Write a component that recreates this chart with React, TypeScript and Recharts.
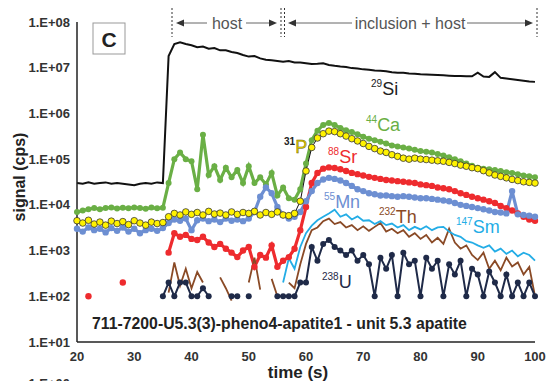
import React from "react";
import { ComposedChart, Line, XAxis, YAxis } from "recharts";

// time (s), one reading per second
const times = [
  20, 21, 22, 23, 24, 25, 26, 27, 28, 29,
  30, 31, 32, 33, 34, 35, 36, 37, 38, 39,
  40, 41, 42, 43, 44, 45, 46, 47, 48, 49,
  50, 51, 52, 53, 54, 55, 56, 57, 58, 59,
  60, 61, 62, 63, 64, 65, 66, 67, 68, 69,
  70, 71, 72, 73, 74, 75, 76, 77, 78, 79,
  80, 81, 82, 83, 84, 85, 86, 87, 88, 89,
  90, 91, 92, 93, 94, 95, 96, 97, 98, 99,
  100,
];

const si29 = [
  3.0e4, 2.9e4, 3.1e4, 2.9e4, 3.0e4, 3.1e4, 2.9e4, 3.0e4, 2.9e4, 2.8e4,
  2.7e4, 2.9e4, 3.0e4, 2.9e4, 3.1e4, 3.0e4, 1.8e7, 3.3e7, 3.6e7, 3.3e7,
  3.1e7, 2.8e7, 2.9e7, 2.6e7, 2.7e7, 2.4e7, 2.4e7, 2.2e7, 2.1e7, 1.9e7,
  1.75e7, 1.8e7, 1.6e7, 1.5e7, 1.45e7, 1.4e7, 1.35e7, 1.4e7, 1.3e7, 1.3e7,
  1.25e7, 1.2e7, 1.22e7, 1.25e7, 1.15e7, 1.1e7, 1.06e7, 1.04e7, 9.8e6, 9.6e6,
  9.2e6, 9.0e6, 8.7e6, 8.6e6, 8.4e6, 8.0e6, 7.8e6, 7.8e6, 7.5e6, 7.4e6,
  7.2e6, 7.1e6, 7.0e6, 6.9e6, 6.8e6, 6.7e6, 6.6e6, 6.6e6, 6.5e6, 6.5e6,
  7.8e6, 6.4e6, 6.3e6, 8.0e6, 6.0e6, 5.8e6, 5.6e6, 5.4e6, 5.2e6, 5.0e6,
  4.9e6,
];

const ca44 = [
  7.0e3, 7.5e3, 8.0e3, 8.5e3, 8.0e3, 8.5e3, 8.8e3, 8.3e3, 8.6e3, 8.4e3,
  8.8e3, 8.5e3, 8.2e3, 8.7e3, 8.4e3, 8.6e3, 3.0e4, 1.0e5, 1.4e5, 1.0e5,
  9.0e4, 2.2e4, 3.4e5, 4.5e4, 7.0e4, 3.5e4, 6.5e4, 4.0e4, 5.8e4, 3.0e4,
  7.0e4, 3.0e4, 4.0e4, 2.8e4, 5.0e4, 1.6e4, 2.4e4, 1.4e4, 1.3e4, 2.2e4,
  8.0e4, 2.6e5, 4.2e5, 5.6e5, 6.2e5, 5.6e5, 4.8e5, 4.3e5, 3.9e5, 3.5e5,
  3.1e5, 2.8e5, 2.6e5, 2.4e5, 2.2e5, 2.0e5, 1.9e5, 1.8e5, 1.7e5, 1.6e5,
  1.5e5, 1.45e5, 1.4e5, 1.3e5, 1.2e5, 1.1e5, 1.0e5, 9.0e4, 8.0e4, 7.2e4,
  6.5e4, 6.2e4, 6.0e4, 5.8e4, 5.5e4, 5.2e4, 5.0e4, 4.7e4, 4.4e4, 4.2e4,
  4.0e4,
];

const p31 = [
  4.5e3, 4.0e3, 4.6e3, 3.8e3, 4.2e3, 3.6e3, 4.4e3, 3.9e3, 4.3e3, 3.7e3,
  4.5e3, 4.0e3, 3.6e3, 4.2e3, 3.9e3, 4.1e3, 5.5e3, 6.5e3, 6.0e3, 7.0e3,
  6.2e3, 6.8e3, 6.0e3, 7.2e3, 6.3e3, 6.6e3, 6.0e3, 7.0e3, 6.2e3, 6.8e3,
  6.5e3, 7.2e3, 6.0e3, 6.8e3, 6.2e3, 7.0e3, 6.0e3, 5.8e3, 6.5e3, 1.2e4,
  5.5e4, 1.8e5, 2.9e5, 3.6e5, 4.1e5, 4.0e5, 3.6e5, 3.2e5, 2.8e5, 2.5e5,
  2.2e5, 1.9e5, 1.7e5, 1.5e5, 1.4e5, 1.25e5, 1.15e5, 1.05e5, 1.0e5, 1.05e5,
  1.0e5, 9.8e4, 9.5e4, 9.2e4, 9.0e4, 8.5e4, 8.0e4, 7.4e4, 7.0e4, 6.5e4,
  6.2e4, 5.6e4, 5.0e4, 4.5e4, 4.2e4, 3.9e4, 3.6e4, 3.4e4, 3.2e4, 3.1e4,
  3.0e4,
];

const sr88 = [
  null, null, 1e2, null, null, null, null, null, 2e2, null,
  null, null, null, null, null, null, 9e2, 2.4e3, 2.0e3, 2.2e3,
  1.8e3, 1.7e3, 2.0e3, 1.5e3, 1.2e3, 1.4e3, 1.1e3, 9e2, 7.2e2, 1.0e3,
  1.2e3, 4.4e2, 8e2, 7e2, 1.3e3, 4.4e2, 6e2, 7.2e2, 1.1e3, 2.8e3,
  9e3, 3e4, 5e4, 6.2e4, 6.6e4, 6.4e4, 6.0e4, 5.5e4, 5.0e4, 4.7e4,
  4.4e4, 4.1e4, 3.9e4, 3.7e4, 3.5e4, 3.4e4, 3.3e4, 3.2e4, 3.1e4, 3.0e4,
  2.8e4, 2.7e4, 2.6e4, 2.4e4, 2.3e4, 2.2e4, 2.0e4, 1.8e4, 1.65e4, 1.5e4,
  1.4e4, 1.3e4, 1.2e4, 1.1e4, 9.5e3, 8.5e3, 7.5e3, 6.5e3, 5.5e3, 4.8e3,
  4.5e3,
];

const mn55 = [
  3.0e3, 2.6e3, 3.2e3, 2.8e3, 3.0e3, 2.5e3, 3.1e3, 2.7e3, 3.2e3, 2.6e3,
  3.0e3, 2.4e3, 2.8e3, 3.0e3, 2.7e3, 3.1e3, 4.0e3, 4.8e3, 4.5e3, 5.0e3,
  2.8e3, 4.6e3, 5.0e3, 4.4e3, 4.8e3, 4.2e3, 5.0e3, 4.5e3, 4.8e3, 4.4e3,
  5.0e3, 7.0e3, 1.5e4, 2.4e4, 1.8e4, 9.0e3, 6.0e3, 5.0e3, 5.5e3, 7.0e3,
  1.2e4, 2.0e4, 3.0e4, 3.6e4, 3.9e4, 3.7e4, 3.4e4, 3.0e4, 2.6e4, 2.2e4,
  2.0e4, 1.8e4, 1.7e4, 1.6e4, 1.6e4, 1.55e4, 1.5e4, 1.55e4, 1.5e4, 1.45e4,
  1.4e4, 1.4e4, 1.35e4, 1.3e4, 1.25e4, 1.2e4, 1.1e4, 1.0e4, 9.5e3, 9.0e3,
  8.5e3, 8.0e3, 7.5e3, 7.0e3, 6.8e3, 6.5e3, 2.0e4, 6.2e3, 6.0e3, 5.8e3,
  5.5e3,
];

const th232 = [
  null, null, null, null, null, null, null, null, null, null,
  null, null, null, null, null, null, 1.2e2, 5.5e2, 1.7e2, 4e2,
  1.5e2, 3.4e2, 2e2, null, null, 2.6e2, 1.5e2, 8e1, null, null,
  2e2, 7e2, 1.4e2, null, 2.4e2, 1e2, null, 2e2, 1.5e2, 5e2,
  1.4e3, 2.8e3, 3.2e3, 4.4e3, 5.0e3, 3.8e3, 4.2e3, 3.2e3, 3.6e3, 2.8e3,
  3.4e3, 2.7e3, 3.3e3, 4.0e3, 2.6e3, 3.0e3, 2.4e3, 2.8e3, 2.0e3, 2.4e3,
  1.8e3, 2.2e3, 1.5e3, 1.9e3, 1.4e3, 3.0e3, 1.5e3, 1.1e3, 1.3e3, 8e2,
  6.2e2, 9e2, 4e2, 6e2, 3.7e2, 7e2, 4.5e2, 5.5e2, 3e2, 4.4e2,
  1e2,
];

const sm147 = [
  null, null, null, null, null, null, null, null, null, null,
  null, null, null, null, null, null, null, null, null, null,
  null, null, null, null, null, null, null, null, null, null,
  null, null, null, null, null, null, 2e2, 6.8e2, 4e2, 1.2e3,
  2.4e3, 3.5e3, 4.6e3, 5.5e3, 6.5e3, 7.8e3, 5.5e3, 6.2e3, 4.8e3, 5.6e3,
  4.5e3, 4.6e3, 3.8e3, 4.4e3, 3.6e3, 3.9e3, 3.2e3, 3.6e3, 2.8e3, 3.3e3,
  2.9e3, 3.4e3, 2.8e3, 3.2e3, 3.3e3, 2.6e3, 2.2e3, 2.0e3, 1.6e3, 1.5e3,
  1.3e3, 1.15e3, 1.3e3, 9.5e2, 1.1e3, 8.5e2, 1.0e3, 7.5e2, 9e2, 8e2,
  6e2,
];

const u238 = [
  null, null, null, null, null, null, null, null, null, null,
  null, null, null, null, null, 1e2, 2e2, 1e2, 2e2, 2e2,
  1e2, 1e2, 1.5e2, 1e2, null, null, null, 1e2, 1e2, null,
  1e2, null, null, null, null, 1e2, 1e2, 1e2, 1e2, 2e2,
  2e2, 1.2e3, 6e2, 1.4e3, 1.7e3, 1.2e3, 1.0e3, 8e2, 1.0e3, 6e2,
  8e2, 5e2, 1e2, 7e2, 4e2, 8e2, 1e2, 9e2, 5e2, 6e2,
  1e2, 7e2, 4e2, 6e2, 1e2, 5e2, 3e2, 6e2, 1e2, 4e2,
  3e2, 1e2, 3.5e2, 2e2, 1e2, 3e2, 1e2, 2e2, 1e2, 2e2,
  1e2,
];

const xTicks = [20, 30, 40, 50, 60, 70, 80, 90, 100];
const yTicks = [1e1, 1e2, 1e3, 1e4, 1e5, 1e6, 1e7, 1e8];

const data = times.map((t, i) => ({
  t,
  si: si29[i],
  ca: ca44[i],
  p: p31[i],
  sr: sr88[i],
  mn: mn55[i],
  th: th232[i],
  sm: sm147[i],
  u: u238[i],
}));

const FONT = "'Liberation Sans', Arial, sans-serif";
const fmtExp = (v: number) => {
  const e = Math.round(Math.log10(v));
  return `1.E+${String(e).padStart(2, "0")}`;
};

const C = {
  si: "#111111",
  ca: "#6aaf45",
  p: "#fff200",
  sr: "#ee2b2e",
  mn: "#6d8fd2",
  th: "#8a4a26",
  sm: "#24ade6",
  u: "#1f2a48",
};

function IsoLabel({ x, y, mass, el, color, massColor }: any) {
  return (
    <text x={x} y={y} fill={color} fontFamily={FONT}>
      <tspan fontSize={10} dy={-8} fill={massColor || color}>{mass}</tspan>
      <tspan fontSize={18} dy={8}>{el}</tspan>
    </text>
  );
}

function Arrow({ x1, x2, y }: any) {
  // horizontal line with a head at x2
  const dir = x2 > x1 ? 1 : -1;
  return (
    <g>
      <line x1={x1} y1={y} x2={x2 - dir * 6} y2={y} stroke="#666" strokeWidth={1} />
      <polygon points={`${x2},${y} ${x2 - dir * 8},${y - 3.5} ${x2 - dir * 8},${y + 3.5}`} fill="#333" />
    </g>
  );
}

function Overlay() {
  return (
    <svg width={547} height={381} style={{ position: "absolute", left: 0, top: 0, pointerEvents: "none" }}>
      {/* panel letter */}
      <rect x={93} y={23} width={32} height={31} fill="#fff" stroke="#999" strokeWidth={1} />
      <text x={109} y={47} textAnchor="middle" fontFamily={FONT} fontWeight={700} fontSize={21} fill="#222">C</text>

      {/* interval markers */}
      <line x1={172} y1={8} x2={172} y2={37} stroke="#333" strokeDasharray="2 2" />
      <line x1={281} y1={8} x2={281} y2={37} stroke="#333" strokeDasharray="2 2" />
      <line x1={284.5} y1={8} x2={284.5} y2={37} stroke="#333" strokeDasharray="2 2" />
      <line x1={537} y1={8} x2={537} y2={37} stroke="#333" strokeDasharray="2 2" />
      <Arrow x1={207} x2={176} y={23} />
      <Arrow x1={246} x2={277} y={23} />
      <text x={227} y={29} textAnchor="middle" fontFamily={FONT} fontSize={16} fill="#555">host</text>
      <Arrow x1={352} x2={288} y={23} />
      <Arrow x1={467} x2={533} y={23} />
      <text x={410} y={29} textAnchor="middle" fontFamily={FONT} fontSize={16} fill="#555">inclusion + host</text>

      {/* isotope labels */}
      <IsoLabel x={371} y={95} mass="29" el="Si" color="#222" />
      <IsoLabel x={366} y={131} mass="44" el="Ca" color={C.ca} />
      <text x={284} y={153} fontFamily={FONT}>
        <tspan fontSize={10} dy={-8} fontWeight={700} fill="#222">31</tspan>
        <tspan fontSize={18} dy={8} fill="#d8c400" stroke="#6b6200" strokeWidth={0.4}>P</tspan>
      </text>
      <IsoLabel x={328} y={163} mass="88" el="Sr" color={C.sr} />
      <IsoLabel x={324} y={208} mass="55" el="Mn" color={C.mn} />
      <IsoLabel x={379} y={223} mass="232" el="Th" color={C.th} />
      <IsoLabel x={456} y={233} mass="147" el="Sm" color={C.sm} />
      <IsoLabel x={322} y={288} mass="238" el="U" color={C.u} />

      <text x={92} y={329} fontFamily={FONT} fontWeight={700} fontSize={15.8} fill="#222">
        711-7200-U5.3(3)-pheno4-apatite1 - unit 5.3 apatite
      </text>

      {/* axis titles */}
      <text x={298} y={378} textAnchor="middle" fontFamily={FONT} fontWeight={700} fontSize={17} fill="#222">time (s)</text>
      <text transform="translate(25,177) rotate(-90)" textAnchor="middle" fontFamily={FONT} fontWeight={700} fontSize={16} fill="#222">signal (cps)</text>
      <text x={70} y={388} textAnchor="end" fontFamily={FONT} fontWeight={700} fontSize={13} fill="#333">1.E+00</text>
    </svg>
  );
}

export default function App() {
  const tick = { fill: "#333", fontSize: 13, fontWeight: 700, fontFamily: FONT };
  return (
    <div style={{ position: "absolute", left: 0, top: 0, width: 547, height: 381, background: "#fff" }}>
      <ComposedChart width={547} height={381} data={data} margin={{ top: 22, right: 12, bottom: 0, left: 0 }}>
        <XAxis dataKey="t" type="number" domain={[20, 100]} ticks={xTicks} tick={tick}
          axisLine={{ stroke: "#222", strokeWidth: 1.5 }} tickLine={false} tickSize={6} tickMargin={4} height={39} />
        <YAxis type="number" scale="log" domain={[10, 1e8]} ticks={yTicks} tick={tick} allowDataOverflow
          tickFormatter={fmtExp} axisLine={{ stroke: "#222", strokeWidth: 1.5 }} tickLine={false}
          tickSize={5} tickMargin={2} width={77} />
        <Line dataKey="ca" type="linear" stroke={C.ca} strokeWidth={3.2} isAnimationActive={false} activeDot={false}
          dot={{ r: 3, fill: C.ca, stroke: C.ca, strokeWidth: 0 }} />
        <Line dataKey="sr" type="linear" stroke={C.sr} strokeWidth={3.2} isAnimationActive={false} activeDot={false}
          dot={{ r: 3.2, fill: C.sr, stroke: C.sr, strokeWidth: 0 }} />
        <Line dataKey="mn" type="linear" stroke={C.mn} strokeWidth={3.2} isAnimationActive={false} activeDot={false}
          dot={{ r: 3.2, fill: C.mn, stroke: C.mn, strokeWidth: 0 }} />
        <Line dataKey="th" type="linear" stroke={C.th} strokeWidth={1.8} isAnimationActive={false} activeDot={false} dot={false} />
        <Line dataKey="sm" type="linear" stroke={C.sm} strokeWidth={1.8} isAnimationActive={false} activeDot={false} dot={false} />
        <Line dataKey="u" type="linear" stroke={C.u} strokeWidth={2} isAnimationActive={false} activeDot={false}
          dot={{ r: 3, fill: C.u, stroke: C.u, strokeWidth: 0 }} />
        <Line dataKey="p" type="linear" stroke="#111" strokeWidth={1} isAnimationActive={false} activeDot={false}
          dot={{ r: 3.3, fill: C.p, stroke: "#333", strokeWidth: 0.8 }} />
        <Line dataKey="si" type="linear" stroke={C.si} strokeWidth={2} isAnimationActive={false} activeDot={false} dot={false} />
      </ComposedChart>
      <Overlay />
    </div>
  );
}
